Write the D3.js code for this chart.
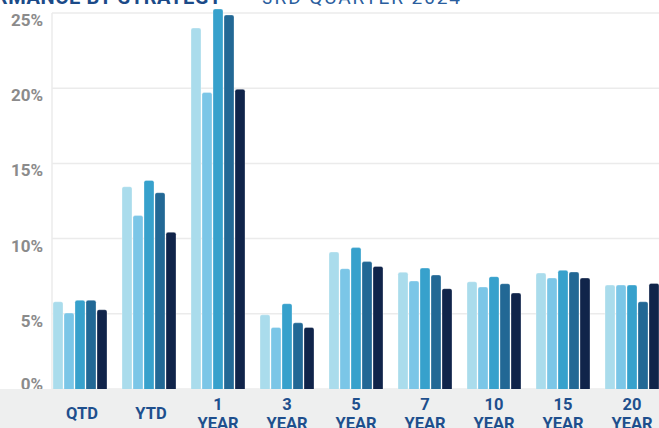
<!DOCTYPE html>
<html>
<head>
<meta charset="utf-8">
<script src="https://cdn.jsdelivr.net/npm/d3@7"></script>
<style>
  html, body { margin: 0; padding: 0; background: #fff; overflow: hidden; }
  svg { display: block; font-family: Roboto, "Liberation Sans", sans-serif; }
</style>
</head>
<body>
<svg id="chart" width="659" height="428"></svg>
<script>
// periods on the x axis
const categories = ['QTD', 'YTD', '1 YEAR', '3 YEAR', '5 YEAR', '7 YEAR', '10 YEAR', '15 YEAR', '20 YEAR'];
const seriesNames = ['Series 1', 'Series 2', 'Series 3', 'Series 4', 'Series 5'];
// returns in %, one array per series
const series1 = [5.8, 13.45, 24.0, 4.93, 9.11, 7.76, 7.13, 7.71, 6.91];
const series2 = [5.05, 11.53, 19.71, 4.09, 8.0, 7.18, 6.78, 7.38, 6.91];
const series3 = [5.9, 13.87, 25.27, 5.67, 9.4, 8.04, 7.47, 7.89, 6.91];
const series4 = [5.9, 13.05, 24.87, 4.4, 8.47, 7.58, 7.0, 7.78, 5.8];
const series5 = [5.27, 10.42, 19.93, 4.09, 8.15, 6.67, 6.38, 7.38, 7.02];
const yTicks = [0, 5, 10, 15, 20, 25];

const cs = {
  palette: ['#aadcec', '#7bc6e7', '#37a1cc', '#226895', '#10244a'],
  grid: '#ebebeb',
  band: '#eeefef',
  axisText: '#8b8b8b',
  catText: '#1e4f8d',
  plot: { left: 52, top: 13, bottom: 389, right: 659 },
};

const allSeries = [series1, series2, series3, series4, series5];
const svg = d3.select('#chart');
const W = 659, H = 428;

const x = d3.scaleBand()
  .domain(categories)
  .range([45.5, 45.5 + 69 * 9])
  .paddingInner(15 / 69)
  .paddingOuter(7.5 / 69);

const xs = d3.scaleBand()
  .domain(seriesNames)
  .range([0, x.bandwidth()])
  .paddingInner(1 / 11)
  .paddingOuter(0);

const y = d3.scaleLinear()
  .domain([0, 25])
  .range([cs.plot.bottom, cs.plot.top]);

// header, cut off at the top edge
svg.append('text')
  .attr('x', 222).attr('y', 4)
  .attr('text-anchor', 'end')
  .attr('font-size', 20).attr('font-weight', 700)
  .attr('letter-spacing', 0.6)
  .attr('fill', '#1b4a88')
  .text('PERFORMANCE BY STRATEGY');
svg.append('text')
  .attr('x', 262).attr('y', 4)
  .attr('font-size', 19).attr('font-weight', 400)
  .attr('textLength', 198).attr('lengthAdjust', 'spacing')
  .attr('fill', '#2a5e9e')
  .text('3RD QUARTER 2024');

// gridlines
svg.append('g').selectAll('line')
  .data(yTicks)
  .join('line')
  .attr('x1', cs.plot.left).attr('x2', cs.plot.right)
  .attr('y1', d => y(d)).attr('y2', d => y(d))
  .attr('stroke', cs.grid).attr('stroke-width', 1.5);
svg.append('line')
  .attr('x1', cs.plot.left).attr('x2', cs.plot.left)
  .attr('y1', cs.plot.top).attr('y2', cs.plot.bottom)
  .attr('stroke', cs.grid).attr('stroke-width', 1.5);

// y labels
svg.append('g').selectAll('text')
  .data(yTicks)
  .join('text')
  .attr('x', 43)
  .attr('y', d => d === 0 ? y(d) + 1 : y(d) + 13)
  .attr('text-anchor', 'end')
  .attr('font-size', 17).attr('font-weight', 700)
  .attr('fill', cs.axisText)
  .text(d => `${d}%`);

// bars
const groups = svg.append('g').selectAll('g')
  .data(categories)
  .join('g')
  .attr('transform', d => `translate(${x(d)},0)`);

groups.selectAll('rect')
  .data((c, ci) => seriesNames.map((s, si) => ({ s, si, v: allSeries[si][ci] })))
  .join('rect')
  .attr('x', d => xs(d.s))
  .attr('width', xs.bandwidth())
  .attr('y', d => y(d.v))
  .attr('height', d => y(0) - y(d.v) + 4)
  .attr('rx', 2)
  .attr('fill', d => cs.palette[d.si])
  .attr('stroke', 'rgba(255,255,255,0.5)')
  .attr('stroke-width', 0.6);

// bottom band
svg.append('rect')
  .attr('x', 0).attr('y', cs.plot.bottom)
  .attr('width', W).attr('height', H - cs.plot.bottom)
  .attr('fill', cs.band);

// category labels
const labels = svg.append('g').selectAll('text')
  .data(categories)
  .join('text')
  .attr('text-anchor', 'middle')
  .attr('font-size', 16.5).attr('font-weight', 700)
  .attr('fill', cs.catText);

labels.each(function (d) {
  const parts = d.split(' ');
  const cx = x(d) + x.bandwidth() / 2;
  const t = d3.select(this);
  if (parts.length === 1) {
    t.append('tspan').attr('x', cx + 2).attr('y', 419).text(parts[0]);
  } else {
    t.append('tspan').attr('x', cx).attr('y', 410).text(parts[0]);
    t.append('tspan').attr('x', cx).attr('y', 429).text(parts[1]);
  }
});
</script>
</body>
</html>
